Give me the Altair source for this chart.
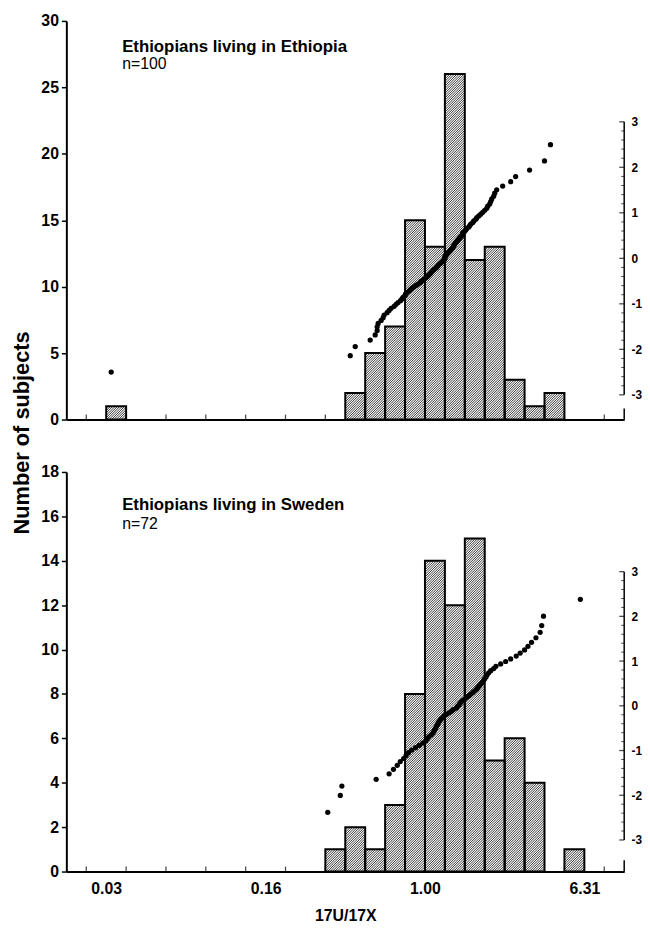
import math
import altair as alt
import pandas as pd

FONT = "Liberation Sans"
W = 564
X_DOMAIN = [-1.8, 1.0]   # log10(17U/17X)
BIN_W = 0.1

# ---- histogram bins (log10 of ratio) and counts ----
top_bin_start = [-1.6, -0.4, -0.3, -0.2, -0.1, 0.0, 0.1, 0.2, 0.3, 0.4, 0.5, 0.6]
top_counts = [1, 2, 5, 7, 15, 13, 26, 12, 13, 3, 1, 2]

bottom_bin_start = [-0.5, -0.4, -0.3, -0.2, -0.1, 0.0, 0.1, 0.2, 0.3, 0.4, 0.5, 0.7]
bottom_counts = [1, 2, 1, 3, 8, 14, 12, 15, 5, 6, 4, 1]

# ---- individual subjects (log10 of ratio) ----
top_points = [
    -1.575, -0.375, -0.35, -0.275, -0.25, -0.24, -0.24, -0.235, -0.22, -0.21,
    -0.205, -0.19, -0.18, -0.17, -0.155, -0.145, -0.135, -0.123, -0.115, -0.11,
    -0.10, -0.098, -0.09, -0.08, -0.073, -0.065, -0.055, -0.045, -0.035, -0.025,
    -0.02, -0.01, -0.003, 0.005, 0.012, 0.018, 0.025, 0.03, 0.035, 0.04,
    0.047, 0.055, 0.06, 0.065, 0.07, 0.077, 0.083, 0.09, 0.095, 0.10,
    0.10, 0.10, 0.105, 0.11, 0.115, 0.12, 0.125, 0.13, 0.135, 0.14,
    0.143, 0.147, 0.15, 0.155, 0.16, 0.165, 0.17, 0.175, 0.18, 0.19,
    0.19, 0.19, 0.20, 0.205, 0.21, 0.22, 0.225, 0.23, 0.24, 0.245,
    0.255, 0.26, 0.27, 0.28, 0.29, 0.30, 0.31, 0.315, 0.325, 0.33,
    0.335, 0.345, 0.35, 0.36, 0.39, 0.43, 0.455, 0.525, 0.60, 0.63,
]

bottom_points = [
    -0.488, -0.425, -0.417, -0.245, -0.18, -0.158, -0.139, -0.124, -0.107, -0.095,
    -0.083, -0.067, -0.047, -0.028, -0.011, 0.004, 0.012, 0.019, 0.031, 0.04,
    0.045, 0.05, 0.055, 0.059, 0.064, 0.068, 0.074, 0.08, 0.089, 0.096,
    0.107, 0.12, 0.133, 0.142, 0.157, 0.162, 0.17, 0.175, 0.182, 0.19,
    0.20, 0.209, 0.221, 0.231, 0.241, 0.25, 0.259, 0.266, 0.273, 0.28,
    0.288, 0.294, 0.30, 0.307, 0.312, 0.32, 0.33, 0.345, 0.356, 0.38,
    0.405, 0.43, 0.458, 0.478, 0.50, 0.517, 0.535, 0.557, 0.578, 0.586,
    0.595, 0.78,
]

# ---- axis ticks / labels ----
x_minor_ticks = [-1.7, -1.5, -1.3, -1.1, -0.9, -0.7, -0.5, -0.3, -0.1, 0.1, 0.3, 0.5, 0.7, 0.9]
x_label_values = [-1.6, -0.8, 0.0, 0.8]
z_labels = [-3, -2, -1, 0, 1, 2, 3]
z_minor = [-2.8, -2.6, -2.4, -2.2, -1.8, -1.6, -1.4, -1.2, -0.8, -0.6, -0.4, -0.2,
           0.2, 0.4, 0.6, 0.8, 1.2, 1.4, 1.6, 1.8, 2.2, 2.4, 2.6, 2.8]


def hatch_table(starts, counts, H, ymax, period=2.4):
    """Diagonal hatch segments clipped to each bar (in data units)."""
    kx = W / (X_DOMAIN[1] - X_DOMAIN[0])
    ky = H / ymax
    rows = []
    for s, c in zip(starts, counts):
        x0 = (s - X_DOMAIN[0]) * kx
        x1 = (s + BIN_W - X_DOMAIN[0]) * kx
        h = c * ky
        k0 = math.floor((x0 - h) / period)
        k1 = math.ceil(x1 / period)
        for k in range(k0, k1 + 1):
            cc = k * period
            xa = max(x0, cc)
            xb = min(x1, h + cc)
            if xb - xa > 0.05:
                rows.append({"hx": X_DOMAIN[0] + xa / kx, "hx2": X_DOMAIN[0] + xb / kx,
                             "hy": (xa - cc) / ky, "hy2": (xb - cc) / ky})
    return pd.DataFrame(rows)


def panel(starts, counts, points, H, ymax, yvals, zdom, label, ntext, ly, ny, bottom):
    xs = alt.Scale(domain=X_DOMAIN, nice=False, zero=False)
    ys = alt.Scale(domain=[0, ymax], nice=False, zero=False)
    zs = alt.Scale(domain=zdom, nice=False, zero=False)

    bars = pd.DataFrame({"start": starts, "count": counts})
    bars["end"] = bars["start"] + BIN_W
    bars["base"] = 0

    if bottom:
        xaxis = alt.Axis(values=x_label_values,
                         labelExpr="format(pow(10, datum.value), '.2f')",
                         ticks=False, labelPadding=9, labelFontSize=16,
                         labelFontWeight="bold", title="17U/17X", titleFontSize=16,
                         titleFontWeight="bold", titlePadding=12, domainWidth=2,
                         grid=False, labelFlush=False)
    else:
        xaxis = alt.Axis(values=x_label_values, labels=False, ticks=False, title=None,
                         domainWidth=2, grid=False)
    yaxis = alt.Axis(values=yvals, title=None, tickSize=5, tickWidth=1.5, labelPadding=3,
                     labelFontSize=16, labelFontWeight="bold", domainWidth=2, grid=False)
    zaxis = alt.Axis(orient="right", values=z_labels, labelExpr="'' + datum.value",
                     domain=False, ticks=False, labelPadding=7, labelFontSize=12,
                     labelFontWeight="bold", grid=False, title=None)

    def X(field=None, datum=None):
        if datum is not None:
            return alt.X(datum=datum, scale=xs, axis=xaxis)
        return alt.X(field, type="quantitative", scale=xs, axis=xaxis)

    def Yc(field=None, datum=None):
        if datum is not None:
            return alt.Y(datum=datum, scale=ys, axis=yaxis)
        return alt.Y(field, type="quantitative", scale=ys, axis=yaxis)

    def Yz(field=None, datum=None):
        if datum is not None:
            return alt.Y(datum=datum, scale=zs, axis=zaxis)
        return alt.Y(field, type="quantitative", scale=zs, axis=zaxis)

    one = pd.DataFrame({"a": [0]})

    fill = alt.Chart(bars).mark_rect(fill="white", strokeWidth=0).encode(
        x=X("start"), x2="end", y=Yc("count"), y2="base",
    )
    hatch = alt.Chart(hatch_table(starts, counts, H, ymax)).mark_rule(
        color="#1e1e1e", strokeWidth=0.9
    ).encode(x=X("hx"), x2="hx2", y=Yc("hy"), y2="hy2")
    outline = alt.Chart(bars).mark_rect(fill="white", fillOpacity=0, stroke="black",
                                        strokeWidth=2).encode(
        x=X("start"), x2="end", y=Yc("count"), y2="base",
    )
    xticks = alt.Chart(pd.DataFrame({"t": x_minor_ticks})).mark_tick(
        orient="vertical", size=5, thickness=1.3, color="black", yOffset=-2.5
    ).encode(x=X("t"), y=Yc(datum=0))
    rstub = alt.Chart(one).mark_rule(color="black", strokeWidth=1.5).encode(
        x=X(datum=1.0), y=Yc(datum=0), y2=alt.Y2(datum=ymax * 0.028),
    )
    t1 = alt.Chart(one).mark_text(text=label, align="left", baseline="alphabetic",
                                  font=FONT, fontSize=17, fontWeight="bold",
                                  color="black").encode(x=X(datum=-1.52), y=Yc(datum=ly))
    t2 = alt.Chart(one).mark_text(text=ntext, align="left", baseline="alphabetic",
                                  font=FONT, fontSize=16, color="black").encode(
        x=X(datum=-1.52), y=Yc(datum=ny))
    count_layer = alt.layer(fill, hatch, outline, xticks, rstub, t1, t2)

    zrule = alt.Chart(one).mark_rule(color="black", strokeWidth=1.5).encode(
        x=X(datum=1.0), y=Yz(datum=-3), y2=alt.Y2(datum=3),
    )
    zmaj = alt.Chart(pd.DataFrame({"z": z_labels})).mark_tick(
        orient="horizontal", size=5, thickness=1.3, color="black", xOffset=-2.5
    ).encode(x=X(datum=1.0), y=Yz("z"))
    zmin = alt.Chart(pd.DataFrame({"z": z_minor})).mark_tick(
        orient="horizontal", size=3, thickness=1, color="black", xOffset=-1.5
    ).encode(x=X(datum=1.0), y=Yz("z"))
    dots = alt.Chart(pd.DataFrame({"v": points})).transform_window(
        rank="row_number()", sort=[alt.SortField("v")]
    ).transform_joinaggregate(
        n="count()"
    ).transform_calculate(
        z="quantileNormal((datum.rank - 0.375) / (datum.n + 0.25))"
    ).mark_circle(size=28, color="black", opacity=1).encode(x=X("v"), y=Yz("z"))
    z_layer = alt.layer(zrule, zmaj, zmin, dots)

    return alt.layer(count_layer, z_layer).resolve_scale(y="independent").properties(
        width=W, height=H
    )


top = panel(top_bin_start, top_counts, top_points, 403, 30, [0, 5, 10, 15, 20, 25, 30],
            [-3.543, 5.217], "Ethiopians living in Ethiopia", "n=100", 27.65, 26.36, False)
bottom = panel(bottom_bin_start, bottom_counts, bottom_points, 404, 18,
               [0, 2, 4, 6, 8, 10, 12, 14, 16, 18], [-3.706, 5.229],
               "Ethiopians living in Sweden", "n=72", 16.27, 15.42, True)

chart = alt.vconcat(top, bottom, spacing=37).properties(
    title=alt.TitleParams("Number of subjects", orient="left", anchor="middle",
                          fontSize=22, fontWeight="bold", font=FONT, color="black",
                          offset=7, dx=36),
    padding={"left": 3, "top": 0, "right": 0, "bottom": 0},
).configure_view(stroke=None).configure_axis(
    domainColor="black", tickColor="black", labelColor="black", titleColor="black",
    labelFont=FONT, titleFont=FONT,
)

chart.save("out.html", embed_options={"renderer": "svg", "actions": False})
